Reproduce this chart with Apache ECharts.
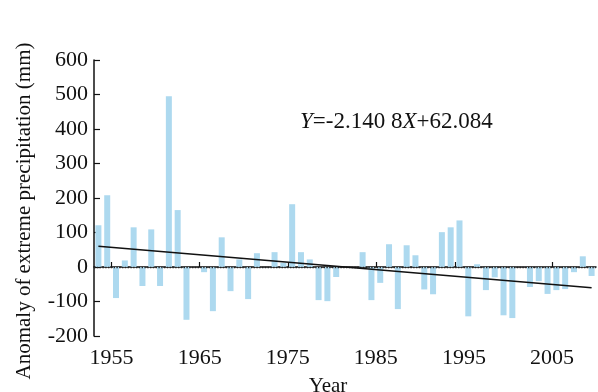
<!DOCTYPE html>
<html>
<head>
<meta charset="utf-8">
<script src="https://cdn.jsdelivr.net/npm/echarts@6/dist/echarts.min.js"></script>
<style>
  html, body { margin: 0; padding: 0; background: #fff; }
  #chart { width: 598px; height: 392px; }
</style>
</head>
<body>
<div id="chart"></div>
<script>
// 年份 1954-2010
var years = [];
for (var y = 1954; y <= 2010; y++) years.push(y);

// 极端降水距平 (mm)
var anomaly = [
  121, 208, -90, 19, 115, -55, 109, -55, 495, 165,
  -153, 0, -15, -128, 86, -70, 22, -93, 40, 0,
  43, 12, 182, 43, 22, -96, -99, -29, 0, 0,
  43, -96, -46, 66, -122, 63, 34, -65, -79, 101,
  115, 135, -143, 8, -67, -30, -140, -148, 0, -58,
  -41, -78, -67, -64, -15, 31, -26
];

// 趋势线 Y=-2.1408X+62.084 两端点
var trendYears = [1954, 2010];
var trendValues = [59.9, -59.9];

// 坐标轴刻度
var yTicks = [-200, -100, 0, 100, 200, 300, 400, 500, 600];
var xTickPos = [1955.5, 1965.5, 1975.5, 1985.5, 1994.5, 2005.5];
var xLabelPos = [1955.5, 1965.5, 1975.5, 1985.5, 1995.5, 2005.5];

var font = "'Liberation Serif', 'Times New Roman', serif";

var chart = echarts.init(document.getElementById("chart"));

var barData = years.map(function (yr, i) { return [yr, anomaly[i]]; });
var trendData = trendYears.map(function (yr, i) { return [yr, trendValues[i]]; });

var option = {
  backgroundColor: "#fff",
  animation: false,
  grid: { left: 94, right: 2, top: 60, bottom: 56, outerBoundsMode: "none", containLabel: false },
  xAxis: {
    type: "value",
    min: 1953.5,
    max: 2010.5,
    name: "Year",
    nameLocation: "middle",
    nameGap: 40,
    nameTextStyle: { fontFamily: font, fontSize: 21, color: "#111", padding: [0, 34, 0, 0] },
    axisLine: { lineStyle: { color: "#111", width: 1.5 } },
    axisTick: { inside: true, length: 5, customValues: xTickPos, lineStyle: { color: "#111", width: 1.2 } },
    axisLabel: {
      customValues: xLabelPos,
      margin: 11,
      fontFamily: font,
      fontSize: 22,
      color: "#111",
      formatter: function (v) { return String(Math.floor(v)); }
    },
    splitLine: { show: false }
  },
  yAxis: {
    type: "value",
    min: yTicks[0],
    max: yTicks[yTicks.length - 1],
    interval: 100,
    name: "Anomaly of extreme precipitation (mm)",
    nameLocation: "middle",
    nameGap: 59,
    nameTextStyle: { fontFamily: font, fontSize: 21, color: "#111", padding: [0, 26, 0, 0] },
    axisLine: { show: true, lineStyle: { color: "#111", width: 1.5 } },
    axisTick: { show: true, inside: true, length: 6, lineStyle: { color: "#111", width: 1.2 } },
    axisLabel: { margin: 6, fontFamily: font, fontSize: 22, color: "#111" },
    splitLine: { show: false }
  },
  graphic: [{
    type: "text",
    left: 300,
    top: 110,
    style: {
      text: "{i|Y}=-2.140 8{i|X}+62.084",
      fontFamily: font,
      fontSize: 23,
      fill: "#111",
      rich: { i: { fontStyle: "italic", fontFamily: font, fontSize: 23, color: "#111" } }
    }
  }],
  series: [
    {
      type: "bar",
      barWidth: 6,
      data: barData,
      itemStyle: { color: "#add9ef" },
      markLine: {
        silent: true,
        symbol: "none",
        label: { show: false },
        lineStyle: { color: "#222", type: "dotted", width: 1.4 },
        data: [{ yAxis: 0 }]
      }
    },
    {
      type: "line",
      data: trendData,
      symbol: "none",
      lineStyle: { color: "#111", width: 1.5 },
      z: 5
    }
  ]
};

chart.setOption(option);
</script>
</body>
</html>
